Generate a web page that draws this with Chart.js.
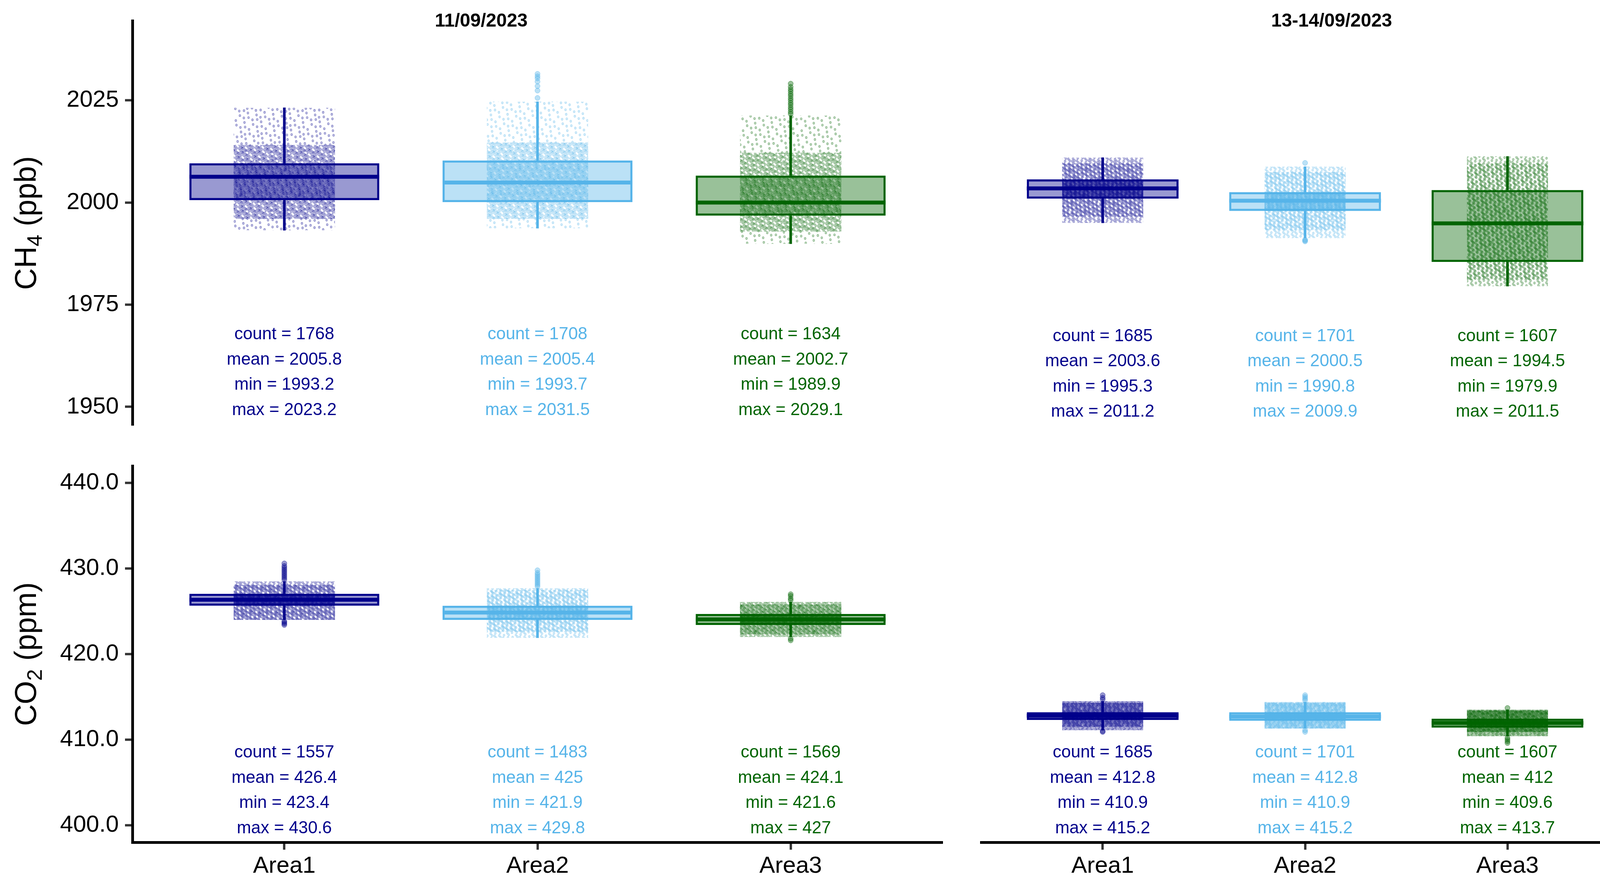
<!DOCTYPE html>
<html>
<head>
<meta charset="utf-8">
<title>CH4 and CO2 by area</title>
<script src="https://cdn.jsdelivr.net/npm/chart.js@4.4.1/dist/chart.umd.min.js"></script>
<style>
html, body { margin: 0; padding: 0; background: #fff; }
#wrap { position: relative; width: 4205px; height: 2272px; overflow: hidden; background: #fff; }
canvas { position: absolute; }
</style>
</head>
<body>
<div id="wrap">
<canvas id="cTL" width="2460" height="1140" style="left:0px;top:0px;width:2460px;height:1140px"></canvas>
<canvas id="cTR" width="1745" height="1140" style="left:2460px;top:0px;width:1745px;height:1140px"></canvas>
<canvas id="cBL" width="2460" height="1132" style="left:0px;top:1140px;width:2460px;height:1132px"></canvas>
<canvas id="cBR" width="1745" height="1132" style="left:2460px;top:1140px;width:1745px;height:1132px"></canvas>
</div>
<script>
// ---------------- DATA ----------------
const categories = ['Area1', 'Area2', 'Area3'];
const facetLabels = ['11/09/2023', '13-14/09/2023'];
const areaColors = ['#00008B', '#56B4E9', '#006400'];

const ch4Ticks = [1950, 1975, 2000, 2025];
const co2Ticks = [400, 410, 420, 430, 440];

// CH4 (ppb), 11/09/2023
const ch4D1Q1 = [2000.6, 2000.1, 1996.8];
const ch4D1Median = [2006.3, 2004.9, 2000.0];
const ch4D1Q3 = [2009.6, 2010.3, 2006.6];
const ch4D1WhiskerLow = [1993.2, 1993.7, 1989.9];
const ch4D1WhiskerHigh = [2023.2, 2024.7, 2021.3];
const ch4D1DenseLow = [1996.0, 1996.0, 1992.9];   // where the raw points become dense
const ch4D1DenseHigh = [2014.1, 2014.7, 2012.2];
const ch4D1Outliers = [
  [],
  [2025.6, 2027.4, 2028.5, 2029.6, 2030.4, 2030.9, 2031.5],
  [2021.7, 2022.2, 2022.8, 2023.3, 2023.9, 2024.4, 2025.0, 2025.5, 2026.1, 2026.6, 2027.2, 2027.7, 2028.3, 2029.1]
];
const ch4D1Count = [1768, 1708, 1634];
const ch4D1Mean = [2005.8, 2005.4, 2002.7];
const ch4D1Min = [1993.2, 1993.7, 1989.9];
const ch4D1Max = [2023.2, 2031.5, 2029.1];

// CH4 (ppb), 13-14/09/2023
const ch4D2Q1 = [2001.2, 1998.2, 1985.8];
const ch4D2Median = [2003.7, 2000.7, 1995.2];
const ch4D2Q3 = [2005.9, 2002.8, 2003.3];
const ch4D2WhiskerLow = [1995.3, 1991.6, 1979.9];
const ch4D2WhiskerHigh = [2011.2, 2009.0, 2011.5];
const ch4D2DenseLow = [1996.8, 1993.5, 1981.5];
const ch4D2DenseHigh = [2009.8, 2007.7, 2009.8];
const ch4D2Outliers = [
  [],
  [2009.9, 1991.2, 1991.0, 1990.8],
  []
];
const ch4D2Count = [1685, 1701, 1607];
const ch4D2Mean = [2003.6, 2000.5, 1994.5];
const ch4D2Min = [1995.3, 1990.8, 1979.9];
const ch4D2Max = [2011.2, 2009.9, 2011.5];

// CO2 (ppm), 11/09/2023
const co2D1Q1 = [425.65, 424.0, 423.4];
const co2D1Median = [426.35, 424.85, 424.06];
const co2D1Q3 = [427.05, 425.65, 424.7];
const co2D1WhiskerLow = [424.0, 421.9, 422.0];
const co2D1WhiskerHigh = [428.5, 427.7, 426.1];
const co2D1DenseLow = [424.0, 422.6, 422.3];
const co2D1DenseHigh = [428.1, 427.5, 425.8];
const co2D1Outliers = [
  [428.7, 428.9, 429.1, 429.3, 429.5, 429.7, 429.9, 430.1, 430.3, 430.6, 423.85, 423.7, 423.55, 423.4],
  [427.9, 428.1, 428.3, 428.5, 428.7, 428.9, 429.1, 429.3, 429.5, 429.8],
  [426.3, 426.5, 426.8, 427.0, 421.8, 421.6]
];
const co2D1Count = [1557, 1483, 1569];
const co2D1Mean = [426.4, 425, 424.1];
const co2D1Min = [423.4, 421.9, 421.6];
const co2D1Max = [430.6, 429.8, 427];

// CO2 (ppm), 13-14/09/2023
const co2D2Q1 = [412.3, 412.2, 411.4];
const co2D2Median = [412.8, 412.7, 411.95];
const co2D2Q3 = [413.2, 413.2, 412.45];
const co2D2WhiskerLow = [411.1, 411.3, 410.4];
const co2D2WhiskerHigh = [414.5, 414.4, 413.5];
const co2D2DenseLow = [411.5, 411.3, 410.9];
const co2D2DenseHigh = [414.3, 414.3, 413.4];
const co2D2Outliers = [
  [414.7, 414.9, 415.2, 411.0, 410.9],
  [414.6, 414.8, 415.0, 415.2, 411.1, 410.9],
  [413.7, 410.2, 410.0, 409.8, 409.6]
];
const co2D2Count = [1685, 1701, 1607];
const co2D2Mean = [412.8, 412.8, 412];
const co2D2Min = [410.9, 410.9, 409.6];
const co2D2Max = [415.2, 415.2, 413.7];

// ---------------- STYLE ----------------
const FONT = '"Liberation Sans", Arial, Helvetica, sans-serif';
const BOX_WIDTH = 0.75;
const JITTER_WIDTH = 0.4;
const BORDER_W = 5.5;
const MEDIAN_W = 10;
const AXIS_W = 7;
Chart.defaults.font.family = FONT;

function rgba(hex, a) {
  const n = parseInt(hex.slice(1), 16);
  return `rgba(${(n >> 16) & 255},${(n >> 8) & 255},${n & 255},${a})`;
}

// dotted texture standing in for the jittered raw measurements
const patternCache = {};
function dotPattern(chart, color, nDots, phase) {
  nDots = Math.max(6, Math.min(1600, Math.round(nDots / 4) * 4));
  const key = color + '_' + nDots + '_' + phase;
  if (patternCache[key]) return patternCache[key];
  const T = 150;
  const c = document.createElement('canvas');
  c.width = T; c.height = T;
  const g = c.getContext('2d');
  g.fillStyle = rgba(color, 0.22);
  g.strokeStyle = rgba(color, 0.45);
  g.lineWidth = 1.1;
  for (let k = 0; k < nDots; k++) {
    const px = ((phase + k * 0.7548776662) % 1) * T;
    const py = ((phase * 1.7 + 0.13 + k * 0.5698402910) % 1) * T;
    for (let dx = -T; dx <= T; dx += T) {
      for (let dy = -T; dy <= T; dy += T) {
        const xx = px + dx, yy = py + dy;
        if (xx < -5 || xx > T + 5 || yy < -5 || yy > T + 5) continue;
        g.beginPath();
        g.ellipse(xx, yy, 2.3, 2.8, 0, 0, Math.PI * 2);
        g.fill();
        g.stroke();
      }
    }
  }
  const p = chart.ctx.createPattern(c, 'repeat');
  patternCache[key] = p;
  return p;
}

function cloudBg(p, band) {
  return (ctx) => {
    if (ctx.type !== 'data') return 'transparent';
    const i = ctx.dataIndex, ch = ctx.chart, xs = ch.scales.x, ys = ch.scales.y;
    if (!xs || !ys) return 'transparent';
    const px = (v) => ys.getPixelForValue(v);
    const w = Math.abs(xs.getPixelForValue(2) - xs.getPixelForValue(1)) * JITTER_WIDTH;
    const hAll = Math.abs(px(p.wLo[i]) - px(p.wHi[i]));
    const hDense = Math.abs(px(p.dLo[i]) - px(p.dHi[i]));
    const hBox = Math.abs(px(p.q1[i]) - px(p.q3[i]));
    const n = p.count[i];
    const dD = 0.4 * n / (w * Math.max(8, hDense - hBox));
    const oD = Math.min(0.1 * n / (w * Math.max(8, hAll - hDense)), dD * 0.45);
    const iD = 0.5 * n / (w * Math.max(4, hBox));
    let d;
    if (band === 'outer') d = oD;
    else if (band === 'dense') d = Math.max(0, dD - oD);
    else d = Math.max(0, iD - Math.max(dD, oD));
    if (!isFinite(d)) return 'transparent';
    const phase = band === 'outer' ? 0.37 : band === 'dense' ? 0.11 : 0.53;
    return dotPattern(ch, areaColors[i], d * 150 * 150, phase);
  };
}

function drawYTitle(ctx, cx, cy, main, sub, rest) {
  const size = 77, subSize = 54;
  ctx.save();
  ctx.translate(cx, cy);
  ctx.rotate(-Math.PI / 2);
  ctx.fillStyle = '#000';
  ctx.textBaseline = 'alphabetic';
  ctx.textAlign = 'left';
  const f1 = `${size}px ${FONT}`, f2 = `${subSize}px ${FONT}`;
  ctx.font = f1;
  const w1 = ctx.measureText(main).width;
  const w3 = ctx.measureText(rest).width;
  ctx.font = f2;
  const w2 = ctx.measureText(sub).width;
  let x = -(w1 + w2 + w3) / 2;
  ctx.font = f1; ctx.fillText(main, x, 0); x += w1;
  ctx.font = f2; ctx.fillText(sub, x, 15); x += w2;
  ctx.font = f1; ctx.fillText(rest, x, 0);
  ctx.restore();
}

function panelPlugin(p) {
  return {
    id: 'panelDecor',
    afterDatasetsDraw(chart) {
      const { ctx } = chart, xs = chart.scales.x, ys = chart.scales.y;
      const half = Math.abs(xs.getPixelForValue(2) - xs.getPixelForValue(1)) * BOX_WIDTH / 2;
      ctx.save();
      ctx.lineCap = 'butt';
      p.median.forEach((m, i) => {
        const cx = xs.getPixelForValue(i + 1), y = ys.getPixelForValue(m);
        ctx.strokeStyle = areaColors[i];
        ctx.lineWidth = MEDIAN_W;
        ctx.beginPath();
        ctx.moveTo(cx - half, y);
        ctx.lineTo(cx + half, y);
        ctx.stroke();
      });
      ctx.restore();
    },
    afterDraw(chart) {
      const { ctx } = chart, xs = chart.scales.x, ys = chart.scales.y, ca = chart.chartArea;
      ctx.save();
      ctx.font = `44px ${FONT}`;
      ctx.textAlign = 'center';
      ctx.textBaseline = 'middle';
      const y0 = ys.getPixelForValue(p.labelTop);
      categories.forEach((c, i) => {
        const cx = xs.getPixelForValue(i + 1);
        const lines = [
          `count = ${p.count[i]}`,
          `mean = ${p.mean[i]}`,
          `min = ${p.min[i]}`,
          `max = ${p.max[i]}`
        ];
        ctx.fillStyle = areaColors[i];
        lines.forEach((t, k) => ctx.fillText(t, cx, y0 + k * 64.5));
      });
      if (p.strip) {
        ctx.font = `bold 48px ${FONT}`;
        ctx.fillStyle = '#000';
        ctx.fillText(p.strip, p.stripX, 55);
      }
      ctx.restore();
      if (p.title) {
        drawYTitle(ctx, 92, (ca.top + ca.bottom) / 2, p.title[0], p.title[1], p.title[2]);
      }
    }
  };
}

function makeChart(canvasId, p) {
  const idx = [1, 2, 3];
  const outlierData = [];
  p.outliers.forEach((arr, i) => arr.forEach(v => outlierData.push({ x: i + 1, y: v })));
  const cloud = (label, order, lo, hi, band) => ({
    type: 'bar', label, order, grouped: false,
    categoryPercentage: 1, barPercentage: JITTER_WIDTH,
    data: idx.map((x, i) => ({ x, y: [lo[i], hi[i]] })),
    backgroundColor: cloudBg(p, band), borderWidth: 0
  });
  const datasets = [
    {
      type: 'bar', label: 'box', order: 7, grouped: false,
      categoryPercentage: 1, barPercentage: BOX_WIDTH,
      data: idx.map((x, i) => ({ x, y: [p.q1[i], p.q3[i]] })),
      backgroundColor: areaColors.map(c => rgba(c, 0.4)),
      borderColor: areaColors, borderWidth: BORDER_W, borderSkipped: false
    },
    cloud('points (all)', 6, p.wLo, p.wHi, 'outer'),
    cloud('points (dense)', 5, p.dLo, p.dHi, 'dense'),
    cloud('points (core)', 4, p.q1, p.q3, 'core'),
    {
      type: 'bar', label: 'lower whisker', order: 3, grouped: false, barThickness: 6,
      data: idx.map((x, i) => ({ x, y: [p.wLo[i], p.q1[i]] })),
      backgroundColor: areaColors, borderWidth: 0
    },
    {
      type: 'bar', label: 'upper whisker', order: 3, grouped: false, barThickness: 6,
      data: idx.map((x, i) => ({ x, y: [p.q3[i], p.wHi[i]] })),
      backgroundColor: areaColors, borderWidth: 0
    },
    {
      type: 'scatter', label: 'outliers', order: 1,
      data: outlierData,
      pointRadius: 6.5,
      pointBorderWidth: 1,
      backgroundColor: (ctx) => ctx.raw ? rgba(areaColors[ctx.raw.x - 1], 0.4) : 'transparent',
      borderColor: (ctx) => ctx.raw ? rgba(areaColors[ctx.raw.x - 1], 0.6) : 'transparent'
    }
  ];

  const xScale = {
    type: 'linear', min: 0.4, max: 3.6, offset: false, display: p.showX,
    afterBuildTicks: (s) => { s.ticks = idx.map(v => ({ value: v })); },
    ticks: {
      callback: (v) => categories[Math.round(v) - 1] || '',
      font: { family: FONT, size: 60 }, color: '#000', padding: 6,
      autoSkip: false, maxRotation: 0, minRotation: 0
    },
    grid: { display: true, offset: false, drawOnChartArea: false, drawTicks: true, tickLength: 19, tickWidth: 6, tickColor: '#333333', color: '#333333' },
    border: { display: true, width: AXIS_W, color: '#000' }
  };
  if (p.showX) xScale.afterFit = (s) => { s.height = 100; };

  const yScale = {
    type: 'linear', min: p.yMin, max: p.yMax, display: p.showY,
    afterBuildTicks: (s) => { s.ticks = p.ticks.map(v => ({ value: v })); },
    ticks: {
      callback: (v) => p.tickFmt(v),
      font: { family: FONT, size: 60 }, color: '#000', padding: 16
    },
    grid: { display: true, drawOnChartArea: false, drawTicks: true, tickLength: 19, tickWidth: 6, tickColor: '#333333', color: '#333333' },
    border: { display: true, width: AXIS_W, color: '#000' }
  };
  if (p.showY) yScale.afterFit = (s) => { s.width = 339; };

  return new Chart(document.getElementById(canvasId), {
    type: 'bar',
    data: { datasets },
    options: {
      responsive: false, maintainAspectRatio: false, devicePixelRatio: 1,
      animation: false, events: [],
      layout: { padding: p.padding },
      plugins: { legend: { display: false }, tooltip: { enabled: false }, title: { display: false } },
      scales: { x: xScale, y: yScale }
    },
    plugins: [panelPlugin(p)]
  });
}

const ch4Fmt = (v) => String(v);
const co2Fmt = (v) => v.toFixed(1);

makeChart('cTL', {
  q1: ch4D1Q1, median: ch4D1Median, q3: ch4D1Q3, wLo: ch4D1WhiskerLow, wHi: ch4D1WhiskerHigh,
  dLo: ch4D1DenseLow, dHi: ch4D1DenseHigh,
  outliers: ch4D1Outliers, count: ch4D1Count, mean: ch4D1Mean, min: ch4D1Min, max: ch4D1Max,
  yMin: 1945.5, yMax: 2044.5, ticks: ch4Ticks, tickFmt: ch4Fmt, labelTop: 1967.7,
  showX: false, showY: true, strip: facetLabels[0], stripX: 1232,
  title: ['CH', '4', ' (ppb)'],
  padding: { left: 0, right: 47, top: 53, bottom: 46 }
});
makeChart('cTR', {
  q1: ch4D2Q1, median: ch4D2Median, q3: ch4D2Q3, wLo: ch4D2WhiskerLow, wHi: ch4D2WhiskerHigh,
  dLo: ch4D2DenseLow, dHi: ch4D2DenseHigh,
  outliers: ch4D2Outliers, count: ch4D2Count, mean: ch4D2Mean, min: ch4D2Min, max: ch4D2Max,
  yMin: 1945.5, yMax: 2044.5, ticks: ch4Ticks, tickFmt: ch4Fmt, labelTop: 1967.7,
  showX: false, showY: false, strip: facetLabels[1], stripX: 949,
  title: null,
  padding: { left: 52, right: 35, top: 53, bottom: 46 }
});
makeChart('cBL', {
  q1: co2D1Q1, median: co2D1Median, q3: co2D1Q3, wLo: co2D1WhiskerLow, wHi: co2D1WhiskerHigh,
  dLo: co2D1DenseLow, dHi: co2D1DenseHigh,
  outliers: co2D1Outliers, count: co2D1Count, mean: co2D1Mean, min: co2D1Min, max: co2D1Max,
  yMin: 398, yMax: 442, ticks: co2Ticks, tickFmt: co2Fmt, labelTop: 408.46,
  showX: true, showY: true, strip: null,
  title: ['CO', '2', ' (ppm)'],
  padding: { left: 0, right: 47, top: 52, bottom: 17 }
});
makeChart('cBR', {
  q1: co2D2Q1, median: co2D2Median, q3: co2D2Q3, wLo: co2D2WhiskerLow, wHi: co2D2WhiskerHigh,
  dLo: co2D2DenseLow, dHi: co2D2DenseHigh,
  outliers: co2D2Outliers, count: co2D2Count, mean: co2D2Mean, min: co2D2Min, max: co2D2Max,
  yMin: 398, yMax: 442, ticks: co2Ticks, tickFmt: co2Fmt, labelTop: 408.46,
  showX: true, showY: false, strip: null,
  title: null,
  padding: { left: 52, right: 35, top: 52, bottom: 17 }
});
</script>
</body>
</html>
